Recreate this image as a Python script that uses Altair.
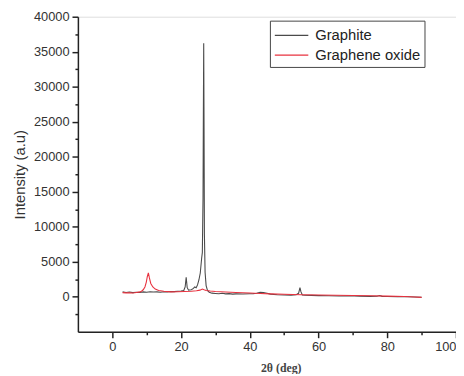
import altair as alt
import pandas as pd

# Graphite XRD pattern (2θ in degrees, intensity in a.u.)
graphite_x = [3, 4, 5, 6, 7, 8, 9, 10, 11, 12, 13, 14, 15, 16, 17, 18, 19, 20, 20.8,
              21.2, 21.5, 21.8, 22.2, 23, 23.6, 24, 24.4, 24.8, 25.2, 25.6, 26.0, 26.2,
              26.4, 26.5, 26.6, 26.7, 26.8, 27.0, 27.3, 27.7, 28.2, 29, 30, 31, 32, 33,
              34, 35, 36, 38, 40, 41, 42, 43, 44, 45, 46, 48, 50, 52, 53.5, 54.2, 54.6,
              54.9, 55.3, 56, 58, 60, 63, 66, 69, 72, 75, 77, 77.8, 78.5, 80, 83, 86, 88, 90]
graphite_y = [700, 620, 680, 600, 650, 620, 700, 650, 720, 680, 700, 640, 720, 700, 760, 740,
              800, 820, 900, 1400, 2800, 1300, 950, 1000, 1200, 1400, 1300, 1700, 2400, 3400,
              5500, 6300, 14000, 26000, 36200, 24000, 9000, 3500, 1600, 900, 650, 520, 480,
              430, 500, 420, 450, 380, 420, 400, 430, 450, 500, 650, 600, 500, 380, 300, 260,
              240, 280, 500, 1300, 700, 260, 230, 200, 170, 140, 110, 150, 90, 60, 80, 180,
              60, 40, 20, 0, -40, -60]

# Graphene oxide XRD pattern
go_x = [3, 4, 5, 6, 7, 8, 8.5, 9, 9.5, 9.9, 10.2, 10.5, 10.8, 11.2, 11.8, 12.5, 13.5, 15,
        17, 19, 21, 23, 24.5, 25.5, 26.2, 26.7, 27.3, 28.5, 30, 33, 36, 40, 43, 46, 50,
        55, 60, 65, 70, 75, 80, 85, 88, 90]
go_y = [600, 560, 580, 550, 620, 700, 800, 1000, 1400, 2100, 2900, 3400, 2700, 1900, 1400,
        1100, 900, 780, 700, 720, 760, 800, 860, 950, 1100, 1000, 900, 820, 760, 680, 620,
        540, 480, 420, 360, 300, 260, 220, 180, 140, 90, 40, -20, -80]

names = ["Graphite", "Graphene oxide"]
colors = ["#4a4a4a", "#e8323f"]

df = pd.concat([
    pd.DataFrame({"x": graphite_x, "y": graphite_y, "s": names[0], "o": 0}),
    pd.DataFrame({"x": go_x, "y": go_y, "s": names[1], "o": 1}),
])

y_ticks = [v * 2500 for v in range(-1, 17)]
x_ticks = [v * 10 for v in range(0, 11)]

chart = alt.Chart(df).mark_line(strokeWidth=1.1, clip=True).encode(
    x=alt.X("x:Q", scale=alt.Scale(domain=[-10, 100], nice=False, zero=False),
            axis=alt.Axis(values=x_ticks, title="2θ (deg)", grid=False,
                          labelExpr="datum.value % 20 === 0 ? datum.label : ''",
                          tickSize={"condition": {"test": "datum.value % 20 === 0", "value": 6}, "value": 3},
                          labelFontSize=13, labelFont="Liberation Sans", labelColor="#333",
                          labelPadding=3, domainColor="#222", domainWidth=1.5,
                          tickColor="#222", tickWidth=1.5,
                          titleFont="Liberation Serif", titleFontSize=12, titleFontWeight="bold",
                          titleColor="#444", titleX=206, titleY=36, titleBaseline="middle")),
    y=alt.Y("y:Q", scale=alt.Scale(domain=[-5000, 40000], nice=False, zero=False),
            axis=alt.Axis(values=y_ticks, title="Intensity (a.u)", grid=False,
                          labelExpr="datum.value % 5000 === 0 && datum.value >= 0 ? format(datum.value, 'd') : ''",
                          tickSize={"condition": {"test": "datum.value % 5000 === 0", "value": 6}, "value": 3},
                          labelFontSize=13, labelFont="Liberation Sans", labelColor="#333",
                          labelPadding=3, domainColor="#222", domainWidth=1.5,
                          tickColor="#222", tickWidth=1.5,
                          titleFont="Liberation Sans", titleFontSize=15, titleFontWeight="normal",
                          titleColor="#333", titleX=-59, titleY=160, titleAngle=-90,
                          titleAlign="center", titleBaseline="middle")),
    color=alt.Color("s:N", scale=alt.Scale(domain=names, range=colors),
                    legend=alt.Legend(title=None, orient="none", legendX=195, legendY=4,
                                      symbolType="M-1,0H2.4", symbolSize=400, symbolStrokeWidth=1.2,
                                      labelFontSize=15, labelFont="Liberation Sans", labelColor="#222",
                                      strokeColor="#444", padding=4, rowPadding=1,
                                      fillColor="white", labelOffset=20)),
    order=alt.Order("o:Q"),
    detail="s:N",
).properties(
    width=384, height=320,
    autosize=alt.AutoSizeParams(type="none"),
    padding={"left": 71, "top": 6, "right": 0, "bottom": 40},
).configure_view(stroke=None).configure(background="white")

chart.save("out.html", embed_options={"renderer": "svg", "actions": False})
